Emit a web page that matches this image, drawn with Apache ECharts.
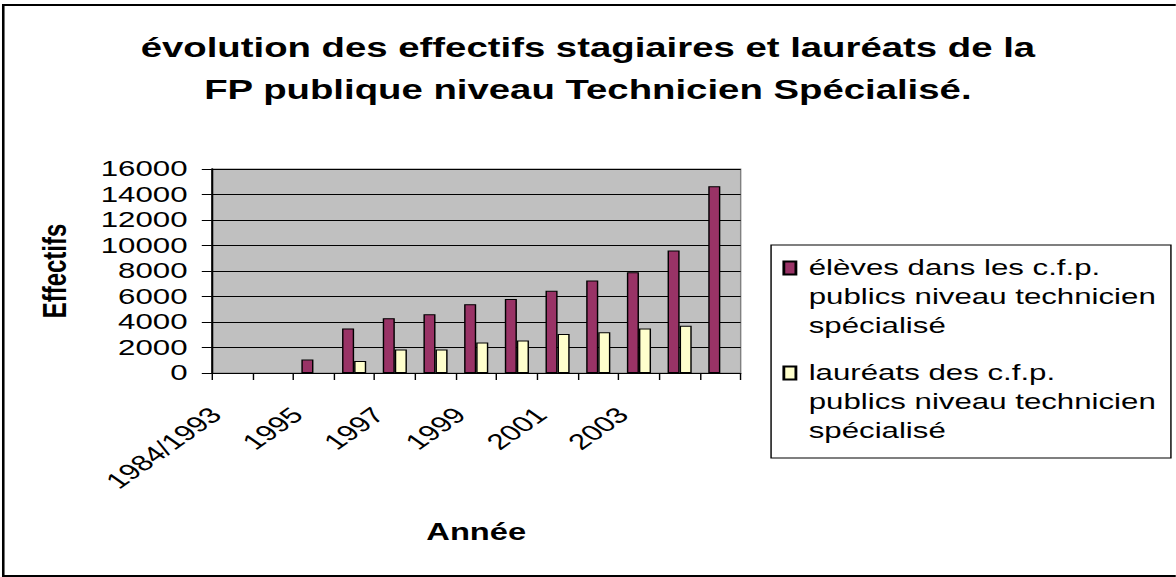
<!DOCTYPE html>
<html>
<head>
<meta charset="utf-8">
<script src="https://cdn.jsdelivr.net/npm/echarts@6/dist/echarts.min.js"></script>
<style>
  html, body { margin: 0; padding: 0; background: #fff; overflow: hidden; }
  /* the original picture is stretched sideways, so the chart is drawn narrower and widened */
  #chart { width: 828px; height: 577px; transform: scaleX(1.42); transform-origin: 0 0; }
</style>
</head>
<body>
<div id="chart"></div>
<script>
var categories = ['1984/1993', '1994', '1995', '1996', '1997', '1998', '1999', '2000', '2001', '2002', '2003', '2004', '2005']
var eleves = [null, null, 1050, 3500, 4300, 4600, 5400, 5800, 6450, 7250, 7900, 9600, 14650]
var laureats = [null, null, null, 950, 1850, 1850, 2400, 2550, 3050, 3200, 3500, 3700, null]
var seriesNames = [
  'élèves dans les c.f.p. publics niveau technicien spécialisé',
  'lauréats des c.f.p. publics niveau technicien spécialisé'
]
var legendLines = [
  ['élèves dans les c.f.p.', 'publics niveau technicien', 'spécialisé'],
  ['lauréats des c.f.p.', 'publics niveau technicien', 'spécialisé']
]
var yTicks = { min: 0, max: 16000, interval: 2000 }

var font = 'Liberation Sans'
var chart = echarts.init(document.getElementById('chart'), null, { renderer: 'svg' })

function legendFor(i, top) {
  return {
    data: [seriesNames[i]],
    orient: 'vertical',
    left: 551,
    top: top,
    padding: 0,
    itemWidth: 8.5,
    itemHeight: 13,
    icon: 'rect',
    // two empty lines first so the marker (centred on the block) sits on the first text line
    formatter: function() { return '\n\n' + legendLines[i].join('\n') },
    textStyle: {
      fontFamily: font,
      fontSize: 22,
      lineHeight: 29,
      color: '#000',
      padding: [0, 0, 0, 4]
    }
  }
}

var option = {
  animation: false,
  title: {
    text: 'évolution des effectifs stagiaires et lauréats de la\nFP publique niveau Technicien Spécialisé.',
    left: 'center',
    top: 27,
    padding: 0,
    textStyle: {
      fontFamily: font,
      fontSize: 27,
      fontWeight: 'bold',
      lineHeight: 42,
      color: '#000'
    }
  },
  legend: [legendFor(0, 195.5), legendFor(1, 300.5)],
  grid: {
    left: 149.1,
    top: 169,
    width: 372.5,
    height: 204,
    show: true,
    backgroundColor: '#c0c0c0',
    borderColor: '#808080',
    borderWidth: 1
  },
  xAxis: {
    type: 'category',
    data: categories,
    name: 'Année',
    nameLocation: 'middle',
    nameGap: 147,
    nameTextStyle: { fontFamily: font, fontSize: 23, fontWeight: 'bold', color: '#000' },
    axisLine: { lineStyle: { color: '#000', width: 1 } },
    axisTick: { show: true, interval: 0, length: 7, lineStyle: { color: '#000' } },
    axisLabel: {
      interval: function(idx) { return idx % 2 === 0 && idx < 12 },
      rotate: 45,
      margin: 27,
      padding: [0, 16, 0, 0],
      fontFamily: font,
      fontSize: 22,
      color: '#000'
    },
    splitLine: { show: false }
  },
  yAxis: {
    type: 'value',
    min: yTicks.min,
    max: yTicks.max,
    interval: yTicks.interval,
    name: 'Effectifs',
    nameLocation: 'middle',
    nameRotate: 90,
    nameGap: 99.5,
    nameTextStyle: { fontFamily: font, fontSize: 24, fontWeight: 'bold', color: '#000' },
    axisLine: { show: true, lineStyle: { color: '#000', width: 1.4 } },
    axisTick: { show: true, length: 7, lineStyle: { color: '#000' } },
    axisLabel: {
      margin: 17,
      fontFamily: font,
      fontSize: 22,
      color: '#000',
      formatter: function(v) { return String(v) }
    },
    splitLine: { show: true, lineStyle: { color: '#000', width: 1 } }
  },
  series: [
    {
      name: seriesNames[0],
      type: 'bar',
      data: eleves,
      barWidth: 8.5,
      barGap: '0%',
      itemStyle: { color: '#993366', borderColor: '#000', borderWidth: 1 }
    },
    {
      name: seriesNames[1],
      type: 'bar',
      data: laureats,
      barWidth: 8.5,
      barGap: '0%',
      itemStyle: { color: '#ffffcc', borderColor: '#000', borderWidth: 1 }
    }
  ],
  graphic: [
    {
      // legend frame
      type: 'rect',
      shape: { x: 543, y: 245, width: 281.6, height: 213 },
      style: { fill: 'none', stroke: '#000', lineWidth: 1 },
      silent: true
    },
    {
      // outer chart frame (right edge runs off the picture)
      type: 'rect',
      shape: { x: 2.3, y: 5, width: 840, height: 571 },
      style: { fill: 'none', stroke: '#000', lineWidth: 1.8 },
      silent: true
    }
  ]
}
chart.setOption(option)
</script>
</body>
</html>
